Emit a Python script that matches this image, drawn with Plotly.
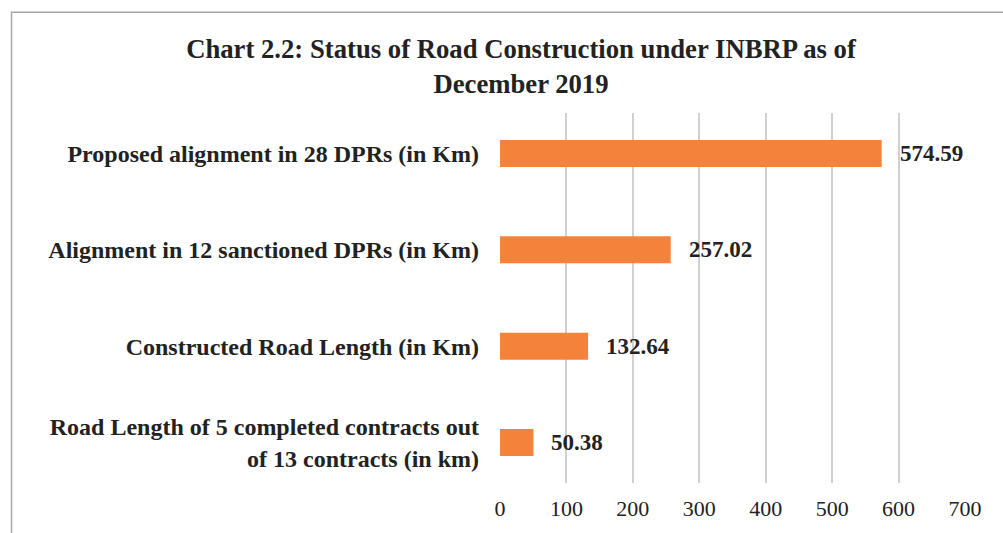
import plotly.graph_objects as go

categories = [
    "Proposed alignment in 28 DPRs (in Km)",
    "Alignment in 12 sanctioned DPRs (in Km)",
    "Constructed Road Length (in Km)",
    "Road Length of 5 completed contracts out<br>of 13 contracts (in km)",
]
values = [574.59, 257.02, 132.64, 50.38]
value_labels = ["574.59", "257.02", "132.64", "50.38"]
x_ticks = [0, 100, 200, 300, 400, 500, 600, 700]

W, H = 1003, 533
L, R, T, B = 500, 38, 113, 47
pw, ph = W - L - R, H - T - B

FONT = "Liberation Serif"
TXT = "#222222"
ORANGE = "#F4823A"

fig = go.Figure()
fig.add_trace(go.Bar(
    x=values, y=categories, orientation="h",
    marker=dict(color=ORANGE, line=dict(width=0)),
    width=0.28, hoverinfo="skip",
))

for v, c, t in zip(values, categories, value_labels):
    fig.add_annotation(
        x=v, y=c, text="<b>%s</b>" % t, showarrow=False,
        xanchor="left", yanchor="middle", xshift=16,
        font=dict(family=FONT, size=23, color=TXT),
    )

# outer chart border (top and left visible)
fig.add_shape(type="rect", xref="paper", yref="paper",
              x0=(11.5 - L) / pw, x1=(W + 20 - L) / pw,
              y0=-(B + 20) / ph, y1=(H - B - 11.5) / ph,
              line=dict(color="#a6a6a6", width=1.5), fillcolor="rgba(0,0,0,0)",
              layer="below")

fig.update_layout(
    width=W, height=H,
    margin=dict(l=L, r=R, t=T, b=B, pad=0),
    paper_bgcolor="white", plot_bgcolor="white",
    showlegend=False,
    title=dict(
        text="<b>Chart 2.2: Status of Road Construction under INBRP as of<br>December 2019</b>",
        x=521 / W, xanchor="center", y=1 - 58 / H, yanchor="middle",
        font=dict(family=FONT, size=26.7, color=TXT),
    ),
    xaxis=dict(
        range=[0, 700], tickvals=x_ticks, ticktext=[str(t) for t in x_ticks],
        showgrid=True, gridcolor="#d0d0d0", gridwidth=1.5,
        zeroline=False, showline=False, ticks="",
        tickfont=dict(family=FONT, size=22, color=TXT),
        ticklabelstandoff=10,
    ),
    yaxis=dict(
        categoryorder="array", categoryarray=categories[::-1],
        range=[-0.42, 3.42], showgrid=False, zeroline=False, showline=False,
        ticks="", ticklabelstandoff=20,
        tickfont=dict(family=FONT, size=24, color=TXT, weight="bold"),
    ),
)

fig.write_html("out.html")
